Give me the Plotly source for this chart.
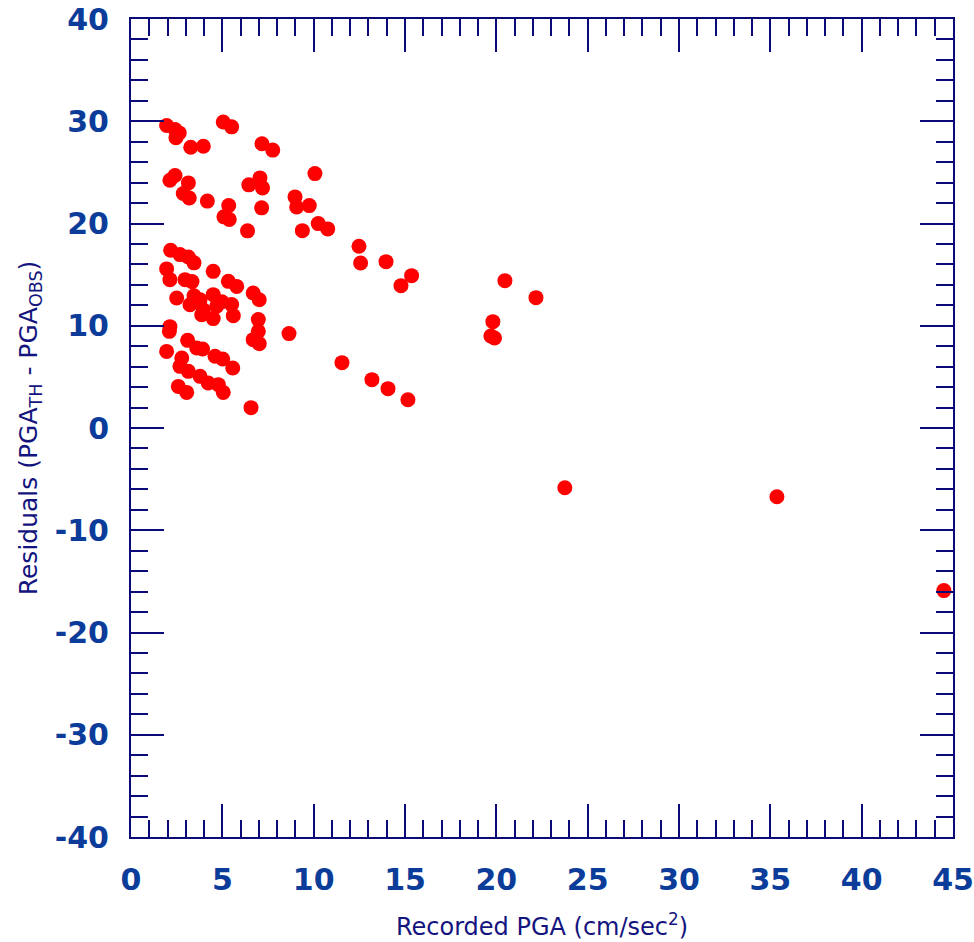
import plotly.graph_objects as go

# Recorded peak ground acceleration (cm/sec^2) and residuals PGA_TH - PGA_OBS
recorded_pga = [
    1.95, 2.41, 2.64, 2.46, 3.27, 3.96, 5.05, 5.51, 7.17, 7.76,
    2.41, 2.13, 3.14, 2.86, 3.19, 4.18, 5.35, 5.09, 5.38,
    6.38, 7.15, 6.45, 7.06, 7.20, 8.98, 9.07, 9.76, 9.38, 10.07,
    10.25, 10.77, 12.48, 12.57, 13.96, 15.36, 14.78,
    20.47, 22.17, 19.81, 19.70, 19.90, 23.75, 35.36, 44.50,
    11.55, 13.19, 14.07, 15.16, 8.65, 6.57,
    2.17, 2.68, 3.14, 3.45, 1.95, 4.50, 2.13, 2.96, 3.34, 5.33,
    5.79, 6.69, 7.02, 2.50, 3.45, 4.50, 3.78, 3.23, 3.96, 4.69,
    4.50, 5.51, 5.60, 3.87, 4.98, 6.97, 6.97, 6.69, 7.02, 2.10,
    2.13, 1.95, 3.10, 3.60, 3.92, 4.60, 5.02, 5.57, 2.78, 2.68,
    3.14, 3.78, 4.23, 4.78, 5.05, 2.59, 3.05,
]
residuals = [
    29.58, 29.19, 28.86, 28.38, 27.46, 27.55, 29.92, 29.45, 27.80, 27.18,
    24.69, 24.23, 23.97, 22.93, 22.50, 22.19, 21.75, 20.65, 20.40,
    19.28, 21.53, 23.78, 24.46, 23.48, 22.60, 21.62, 21.75, 19.30, 24.88,
    19.99, 19.47, 17.77, 16.14, 16.27, 14.90, 13.92,
    14.41, 12.75, 10.40, 9.00, 8.80, -5.84, -6.72, -15.90,
    6.39, 4.73, 3.85, 2.77, 9.23, 1.99,
    17.38, 16.96, 16.73, 16.15, 15.56, 15.32, 14.51, 14.51, 14.32, 14.34,
    13.85, 13.21, 12.55, 12.72, 12.94, 13.04, 12.55, 12.06, 11.57, 11.90,
    10.70, 12.07, 10.99, 11.07, 12.35, 10.60, 9.45, 8.64, 8.25, 9.45,
    9.91, 7.49, 8.57, 7.83, 7.73, 7.01, 6.75, 5.87, 6.85, 6.03,
    5.54, 5.05, 4.40, 4.24, 3.48, 4.07, 3.48,
]

x_ticks = [0, 5, 10, 15, 20, 25, 30, 35, 40, 45]
y_ticks = [-40, -30, -20, -10, 0, 10, 20, 30, 40]

LINE = "#0a0a78"
LABEL = "#0b3c9a"
TITLE = "#14147e"
FONT = "Tahoma, Verdana, DejaVu Sans, sans-serif"

fig = go.Figure(
    go.Scatter(
        x=recorded_pga,
        y=residuals,
        mode="markers",
        marker=dict(color="#ff0000", size=15, line=dict(width=0)),
        cliponaxis=False,
        hoverinfo="x+y",
    )
)

axis_common = dict(
    showgrid=False,
    zeroline=False,
    showline=True,
    linecolor=LINE,
    linewidth=2,
    mirror="allticks",
    ticks="inside",
    ticklen=33,
    tickwidth=2,
    tickcolor=LINE,
    automargin=False,
    tickfont=dict(family=FONT, size=30, color=LABEL, weight="bold"),
)

fig.update_xaxes(
    **axis_common,
    range=[0, 45],
    tickvals=x_ticks,
    ticktext=[str(v) for v in x_ticks],
    minor=dict(dtick=1, ticks="inside", ticklen=17, tickwidth=2, tickcolor=LINE, showgrid=False),
    ticklabelstandoff=15,
    title=dict(
        text="Recorded PGA (cm/sec<sup>2</sup>)",
        font=dict(family=FONT, size=24, color=TITLE),
        standoff=22,
    ),
)
fig.update_yaxes(
    **axis_common,
    range=[-40, 40],
    tickvals=y_ticks,
    ticktext=[str(v) for v in y_ticks],
    minor=dict(dtick=2, ticks="inside", ticklen=17, tickwidth=2, tickcolor=LINE, showgrid=False),
    ticklabelstandoff=14,
    title=dict(
        text="Residuals (PGA<sub>TH</sub> - PGA<sub>OBS</sub>)",
        font=dict(family=FONT, size=25, color=TITLE),
        standoff=10,
    ),
)

fig.update_layout(
    width=974,
    height=942,
    margin=dict(l=131, r=21, t=19, b=105),
    paper_bgcolor="white",
    plot_bgcolor="white",
    showlegend=False,
)

fig.write_html("out.html")
